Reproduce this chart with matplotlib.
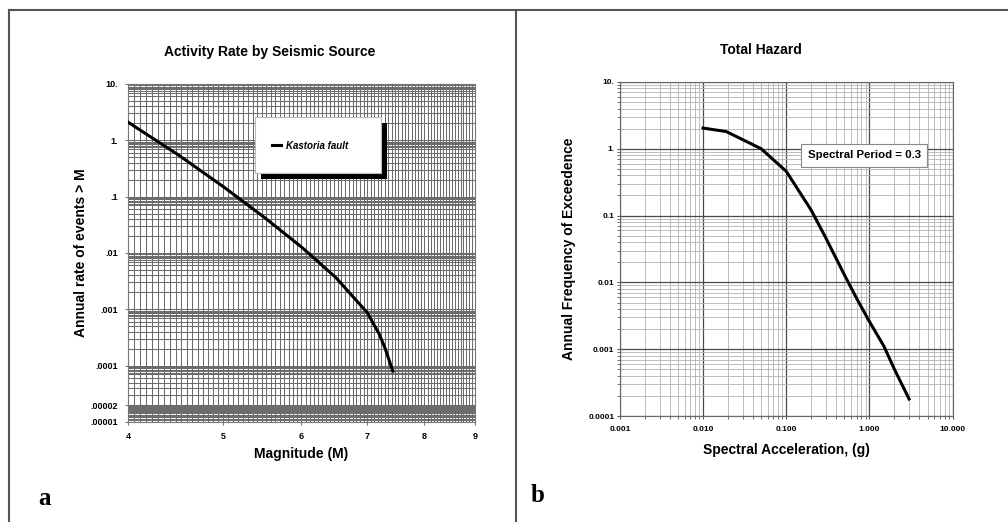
import numpy as np
import matplotlib
matplotlib.use("Agg")
import matplotlib.pyplot as plt
from matplotlib.lines import Line2D
from matplotlib.patches import Rectangle
from matplotlib.ticker import FixedLocator, NullFormatter, LogLocator

# panel a: activity rate of the Kastoria fault
magnitude = [4.0, 4.5, 5.0, 5.5, 6.0, 6.5, 7.0, 7.2, 7.3, 7.43]
rate = [2.1, 0.55, 0.15, 0.043, 0.0128, 0.0037, 0.00087, 0.00036, 0.0002, 0.00008]
mag_ticks = [4, 5, 6, 7, 8, 9]
rate_ticks = [1e-5, 2e-5, 1e-4, 1e-3, 1e-2, 1e-1, 1, 10]
rate_labels = [".00001", ".00002", ".0001", ".001", ".01", ".1", "1.", "10."]

# panel b: total hazard curve
accel = [0.01, 0.019, 0.05, 0.1, 0.2, 0.3, 0.5, 0.7, 1.0, 1.5, 2.0, 3.0]
freq = [2.04, 1.81, 1.0, 0.46, 0.12, 0.046, 0.013, 0.0058, 0.0026, 0.0011, 0.0005, 0.00018]
accel_ticks = [0.001, 0.01, 0.1, 1, 10]
accel_labels = ["0.001", "0.010", "0.100", "1.000", "10.000"]
freq_ticks = [1e-4, 1e-3, 1e-2, 1e-1, 1, 10]
freq_labels = ["0.0001", "0.001", "0.01", "0.1", "1.", "10."]

plt.rcParams["font.family"] = ["Liberation Sans", "DejaVu Sans"]
plt.rcParams["font.weight"] = "bold"
plt.rcParams["axes.labelweight"] = "bold"
plt.rcParams["axes.titleweight"] = "bold"

fig = plt.figure(figsize=(10.08, 5.22), dpi=100)
fig.patch.set_facecolor("white")

# ---- panel a ----
ax1 = fig.add_axes([0.127, 0.1916, 0.344, 0.6475])
ax1.set_xscale("log")
ax1.set_yscale("log")
ax1.set_axisbelow(True)
ax1.plot(magnitude, rate, color="black", lw=2.2, label="Kastoria fault", zorder=3)
ax1.set_xlim(4, 9)
ax1.set_ylim(1e-5, 10)

ax1.xaxis.set_major_locator(FixedLocator(mag_ticks))
ax1.set_xticklabels([str(m) for m in mag_ticks])
ax1.xaxis.set_minor_locator(FixedLocator(np.linspace(4, 9, 86)))
ax1.xaxis.set_minor_formatter(NullFormatter())

# graph-paper rulings: decade subdivisions, crowded under each decade
decades = 10.0 ** np.arange(-5, 1)
subs = np.array([2, 3, 4, 5, 6, 7, 7.5, 8, 8.5, 9, 9.5])
yminor = list((decades[:, None] * subs).ravel())
yminor += list(1e-5 * np.arange(1.07, 2.0, 0.07))
ax1.yaxis.set_major_locator(FixedLocator(rate_ticks))
ax1.set_yticklabels(rate_labels)
ax1.yaxis.set_minor_locator(FixedLocator(yminor))
ax1.yaxis.set_minor_formatter(NullFormatter())

ax1.grid(which="both", color="#6c6c6c", lw=0.75)
ax1.tick_params(which="both", length=2, color="#777777", labelsize=6.5, pad=5)
ax1.tick_params(which="minor", length=0)
for s in ax1.spines.values():
    s.set_color("#777777")
    s.set_linewidth(0.8)

ax1.set_title("Activity Rate by Seismic Source", fontsize=10, pad=20, x=0.408)
ax1.set_xlabel("Magnitude (M)", fontsize=10)
ax1.set_ylabel("Annual rate of events > M", fontsize=10)
ax1.xaxis.set_label_coords(0.5, -0.075)
ax1.yaxis.set_label_coords(-0.115, 0.5)

# legend box with a hard black shadow
ax1.add_patch(Rectangle((0.383, 0.72), 0.363, 0.165, transform=ax1.transAxes,
                        facecolor="black", edgecolor="none", zorder=4))
ax1.add_patch(Rectangle((0.366, 0.737), 0.363, 0.165, transform=ax1.transAxes,
                        facecolor="white", edgecolor="#bbbbbb", lw=0.8, zorder=4.5))
leg = ax1.legend(loc="center", bbox_to_anchor=(0.525, 0.817), frameon=False,
                 handlelength=1.0, handletextpad=0.5,
                 prop={"size": 7, "style": "italic", "weight": "bold"})
leg.set_zorder(5)

# ---- panel b ----
ax2 = fig.add_axes([0.615, 0.203, 0.330, 0.640])
ax2.set_xscale("log")
ax2.set_yscale("log")
ax2.set_axisbelow(True)
ax2.plot(accel, freq, color="black", lw=2.2, zorder=3)
ax2.set_xlim(0.001, 10)
ax2.set_ylim(1e-4, 10)

ax2.xaxis.set_major_locator(FixedLocator(accel_ticks))
ax2.set_xticklabels(accel_labels)
ax2.yaxis.set_major_locator(FixedLocator(freq_ticks))
ax2.set_yticklabels(freq_labels)
ax2.xaxis.set_minor_locator(LogLocator(base=10, subs=np.arange(2, 10), numticks=20))
ax2.yaxis.set_minor_locator(LogLocator(base=10, subs=np.arange(2, 10), numticks=20))
ax2.xaxis.set_minor_formatter(NullFormatter())
ax2.yaxis.set_minor_formatter(NullFormatter())

ax2.grid(which="major", color="#4a4a4a", lw=0.9)
ax2.grid(which="minor", color="#b3b3b3", lw=0.6)
ax2.tick_params(which="both", length=2, color="#555555", labelsize=6)
ax2.tick_params(axis="y", pad=2)
ax2.tick_params(axis="x", pad=5)
for s in ax2.spines.values():
    s.set_color("#666666")
    s.set_linewidth(0.8)

ax2.set_title("Total Hazard", fontsize=10, pad=20, x=0.425)
ax2.set_xlabel("Spectral Acceleration, (g)", fontsize=10)
ax2.set_ylabel("Annual Frequency of Exceedence", fontsize=10)
ax2.xaxis.set_label_coords(0.5, -0.08)
ax2.yaxis.set_label_coords(-0.132, 0.5)

ax2.text(0.734, 0.78, "Spectral Period = 0.3", transform=ax2.transAxes, fontsize=8.2,
         ha="center", va="center", zorder=5,
         bbox=dict(boxstyle="square,pad=0.55", facecolor="white", edgecolor="#888888", lw=0.8))

# panel frames and letters
frame = dict(transform=fig.transFigure, color="#555555", lw=1.5)
fig.add_artist(Line2D([9 / 1008, 1.0], [1 - 10 / 522, 1 - 10 / 522], **frame))
fig.add_artist(Line2D([9 / 1008, 9 / 1008], [0.0, 1 - 10 / 522], **frame))
fig.add_artist(Line2D([516 / 1008, 516 / 1008], [0.0, 1 - 10 / 522], **frame))

fig.text(38 / 1008, 1 - 505 / 522, "a", family="Liberation Serif", fontsize=18, fontweight="bold")
fig.text(531 / 1008, 1 - 502 / 522, "b", family="Liberation Serif", fontsize=18, fontweight="bold")

fig.savefig("out.png", dpi=100, facecolor="white")
